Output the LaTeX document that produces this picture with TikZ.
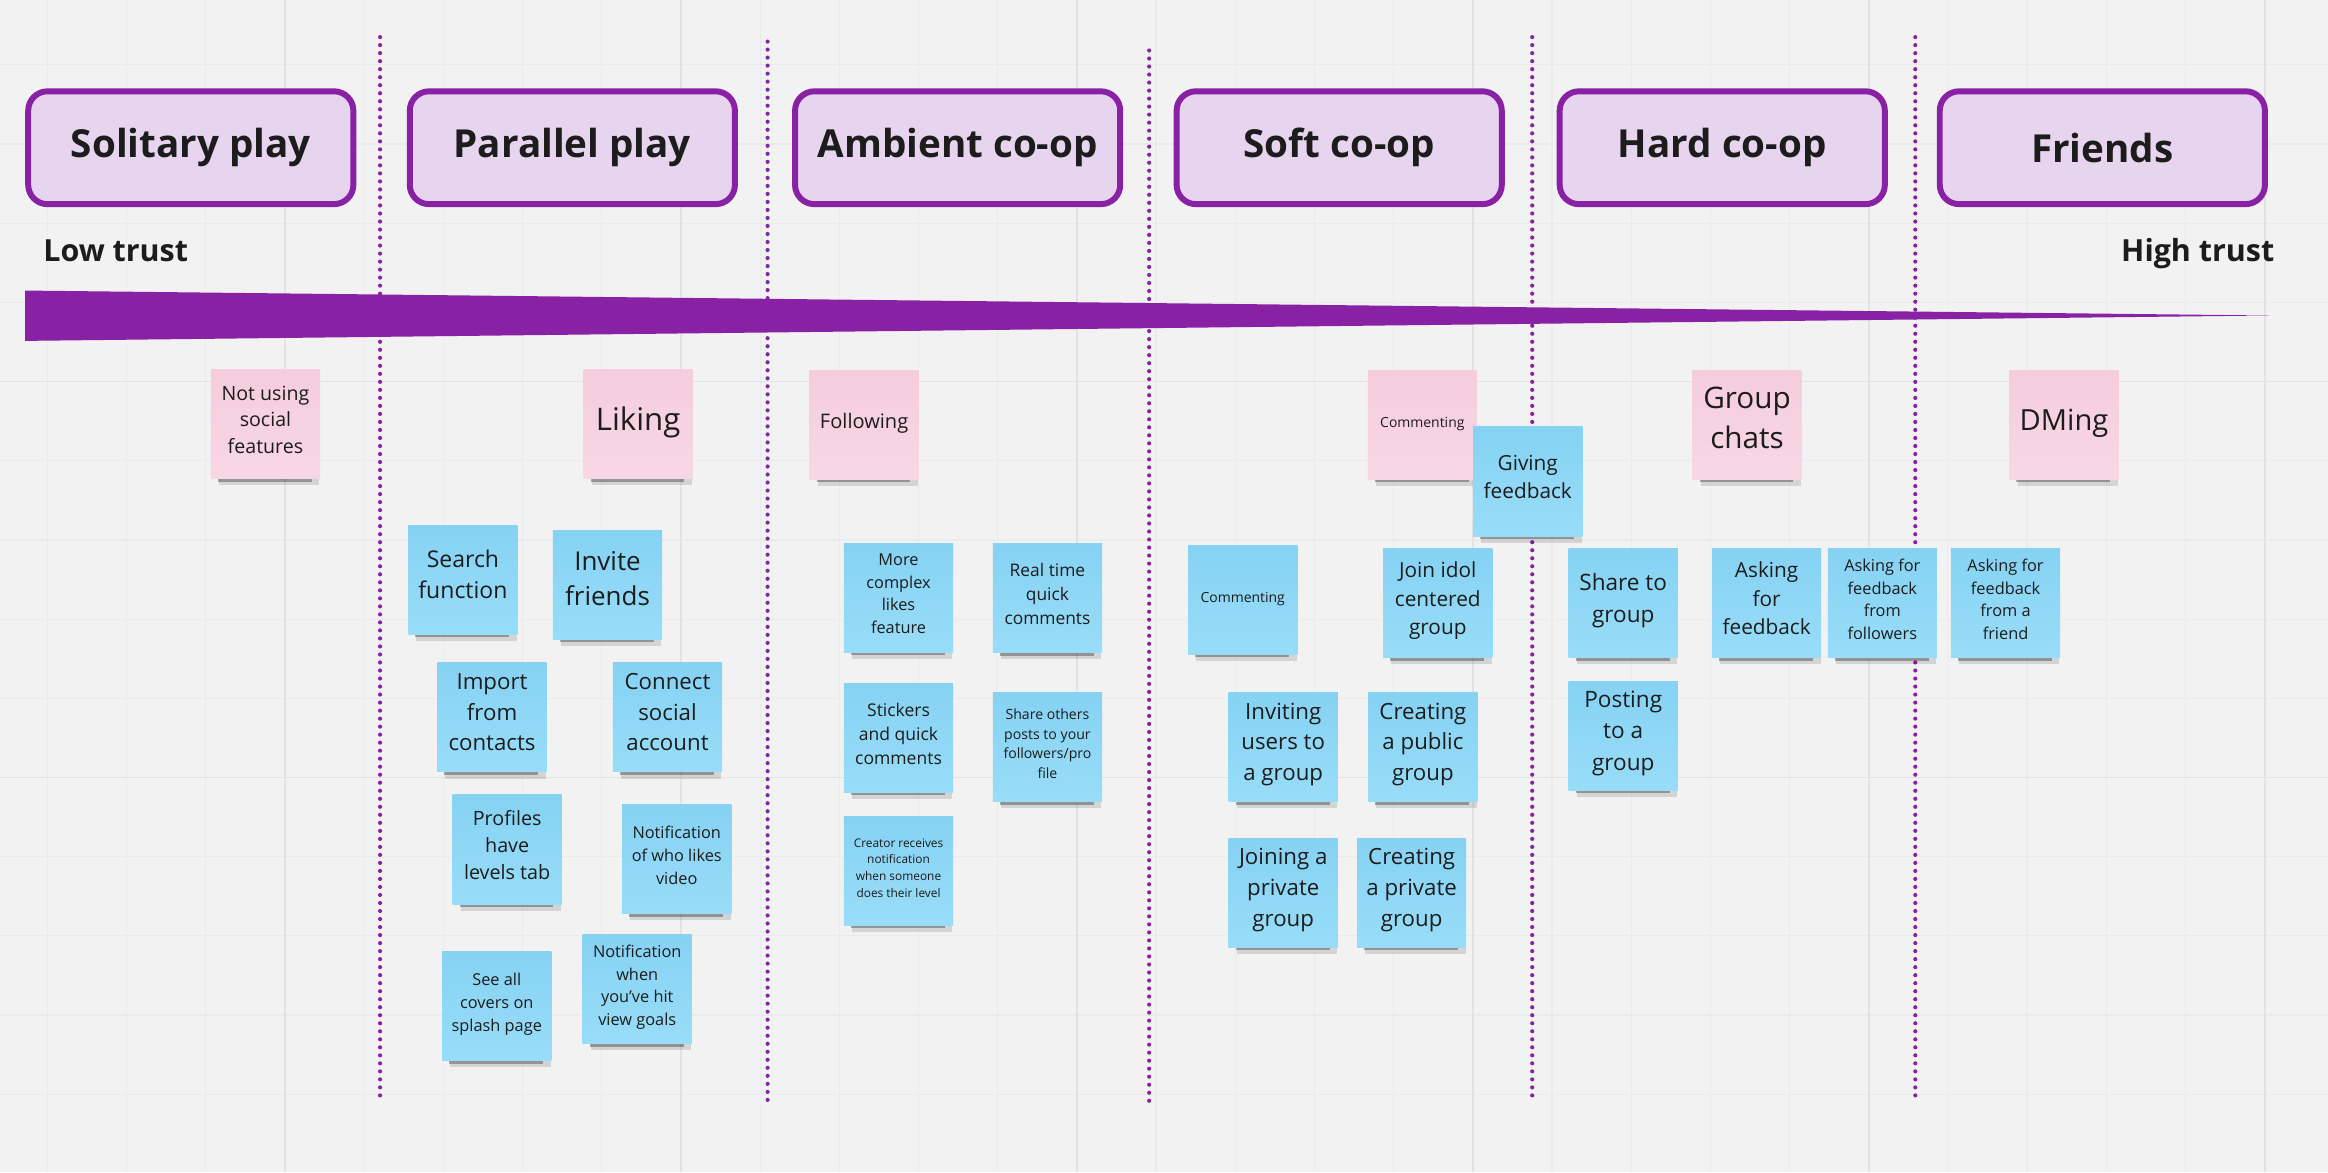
\documentclass[tikz,border=0pt]{standalone}
\usepackage{fontspec}
\setmainfont{Open Sans}
\usepackage{tikz}
\usetikzlibrary{shadows}

\definecolor{board}{RGB}{242,242,242}
\definecolor{gridminor}{RGB}{235,235,235}
\definecolor{gridmajor}{RGB}{227,227,227}
\definecolor{trust}{RGB}{137,33,165}
\definecolor{lavender}{RGB}{231,212,239}
\definecolor{pinktop}{RGB}{245,205,221}
\definecolor{pinkbot}{RGB}{248,215,229}
\definecolor{bluetop}{RGB}{134,210,243}
\definecolor{bluebot}{RGB}{152,221,248}
\definecolor{ink}{RGB}{28,28,28}

\newcommand{\notefont}[2]{\fontsize{#1}{#2}\selectfont}

\tikzset{
	stage/.style={draw=trust, line width=4pt, fill=lavender, rounded corners=13pt, minimum width=219pt, minimum height=76pt, text=ink, font=\notefont{26}{32}\bfseries},
	trustlabel/.style={inner sep=0pt, text=ink, font=\notefont{20.5}{26}\bfseries},
	sticky/.style={minimum width=73.5pt, minimum height=73.5pt, inner sep=0pt, align=center, text=ink,
		execute at begin node={\rule{0pt}{.88em}}, execute at end node={\rule[-.48em]{0pt}{0pt}},
		drop shadow={shadow scale=.92, shadow yshift=-8pt, opacity=.12, fill=black},
		drop shadow={shadow scale=.86, shadow xshift=-.5pt, shadow yshift=-8.3pt, opacity=.3, fill=black}},
	pinknote/.style={sticky, top color=pinktop, bottom color=pinkbot},
	bluenote/.style={sticky, top color=bluetop, bottom color=bluebot},
	divider/.style={trust, line width=2.8pt, line cap=round, dash pattern=on 0pt off 5.4pt},
}

\begin{document}
\begin{tikzpicture}[x=1pt, y=-1pt]
		\useasboundingbox (0,0) rectangle (1568,789.4);
		% board and grid
		\fill[board] (0,0) rectangle (1568,789.4);
		\begin{scope}[shift={(32pt,-43.7pt)}]
			\draw[step=53.33pt, gridminor, line width=0.8pt] (-32pt,43.7pt) grid (1536pt,-745.7pt);
		\end{scope}
		\begin{scope}[shift={(192pt,-257pt)}]
			\draw[step=266.67pt, gridmajor, line width=1.2pt] (-192pt,257pt) grid (1376pt,-532.4pt);
		\end{scope}

		% column dividers
		\draw[divider] (256,25) -- (256,738);
		\draw[divider] (517,28) -- (517,741);
		\draw[divider] (774,34) -- (774,746);
		\draw[divider] (1032,25) -- (1032,740);
		\draw[divider] (1290,25) -- (1290,738);

		% trust wedge
		\fill[trust] (17,195.7) -- (1528,212.5) -- (17,229.6) -- cycle;
		\node[trustlabel, anchor=base west] (lowtrust) at (29,176.4) {Low trust};
		\node[trustlabel, anchor=base east] (hightrust) at (1532,176.4) {High trust};

		% stages
		\node[stage] (solitary) at (128.5,99.5) {Solitary play};
		\node[stage] (parallel) at (385.5,99.5) {Parallel play};
		\node[stage] (ambient) at (645,99.5) {Ambient co-op};
		\node[stage] (softcoop) at (902,99.5) {Soft co-op};
		\node[stage] (hardcoop) at (1160,99.5) {Hard co-op};
		\node[stage] (friends) at (1416,99.5) {Friends};

		% behaviours
		\node[pinknote, font=\notefont{13.2}{18}] (nosocial) at (178.8,285.8) {Not using\\social\\features};
		\node[pinknote, font=\notefont{21}{28.5}] (liking) at (429.8,285.8) {Liking};
		\node[pinknote, font=\notefont{13.5}{18.4}] (following) at (582,286) {Following};
		\node[pinknote, font=\notefont{9.4}{12.8}] (commentpink) at (958,286) {Commenting};
		\node[pinknote, font=\notefont{20}{27}] (groupchats) at (1176.7,286) {Group\\chats};
		\node[pinknote, font=\notefont{19.6}{26.7}] (dming) at (1390.2,286) {DMing};

		% parallel play features
		\node[bluenote, font=\notefont{15.5}{21}] (search) at (311.8,390.6) {Search\\function};
		\node[bluenote, font=\notefont{17.5}{24}] (invite) at (409.2,393.8) {Invite\\friends};
		\node[bluenote, font=\notefont{15}{20.5}] (import) at (331.4,483.2) {Import\\from\\contacts};
		\node[bluenote, font=\notefont{15}{20.5}] (connect) at (449.6,483.2) {Connect\\social\\account};
		\node[bluenote, font=\notefont{13.3}{18.2}] (profiles) at (341.6,572.2) {Profiles\\have\\levels tab};
		\node[bluenote, font=\notefont{11}{15.3}] (notifylikes) at (455.8,578.8) {Notification\\of who likes\\video};
		\node[bluenote, font=\notefont{11}{15.4}] (seecovers) at (334.6,677.8) {See all\\covers on\\splash page};
		\node[bluenote, font=\notefont{11}{15.3}] (notifygoals) at (429.2,666.2) {Notification\\when\\you've hit\\view goals};

		% ambient co-op features
		\node[bluenote, font=\notefont{11}{15.2}] (complexlikes) at (605.2,402.6) {More\\complex\\likes\\feature};
		\node[bluenote, font=\notefont{11.7}{16}] (realtime) at (705.5,402.8) {Real time\\quick\\comments};
		\node[bluenote, font=\notefont{11.8}{16.2}] (stickers) at (605.2,496.8) {Stickers\\and quick\\comments};
		\node[bluenote, font=\notefont{9.5}{13.1}] (shareothers) at (705.5,503.2) {Share others\\posts to your\\followers/pro\\file};
		\node[bluenote, font=\notefont{8}{11.2}] (creator) at (605.2,586.4) {Creator receives\\notification\\when someone\\does their level};

		% soft co-op features
		\node[bluenote, font=\notefont{9.4}{12.8}] (commentblue) at (837,404) {Commenting};
		\node[bluenote, font=\notefont{14}{19}] (givingfb) at (1029,324.3) {Giving\\feedback};
		\node[bluenote, font=\notefont{14}{19.3}] (joinidol) at (968.4,406.3) {Join idol\\centered\\group};
		\node[bluenote, font=\notefont{15}{20.8}] (inviting) at (864.3,503.2) {Inviting\\users to\\a group};
		\node[bluenote, font=\notefont{15}{20.8}] (createpublic) at (958.4,503.2) {Creating\\a public\\group};
		\node[bluenote, font=\notefont{15}{20.8}] (joinprivate) at (864.3,601.4) {Joining a\\private\\group};
		\node[bluenote, font=\notefont{15}{20.8}] (createprivate) at (950.8,601.4) {Creating\\a private\\group};

		% hard co-op and friends features
		\node[bluenote, font=\notefont{15.2}{21.2}] (sharegroup) at (1093.3,406.3) {Share to\\group};
		\node[bluenote, font=\notefont{15.2}{21.2}] (postgroup) at (1093.3,495.7) {Posting\\to a\\group};
		\node[bluenote, font=\notefont{14}{19.3}] (askingfb) at (1189.9,406.3) {Asking\\for\\feedback};
		\node[bluenote, font=\notefont{11}{15.3}] (askfollowers) at (1267.8,406.3) {Asking for\\feedback\\from\\followers};
		\node[bluenote, font=\notefont{11}{15.3}] (askfriend) at (1350.8,406.3) {Asking for\\feedback\\from a\\friend};
		\end{tikzpicture}
\end{document}
